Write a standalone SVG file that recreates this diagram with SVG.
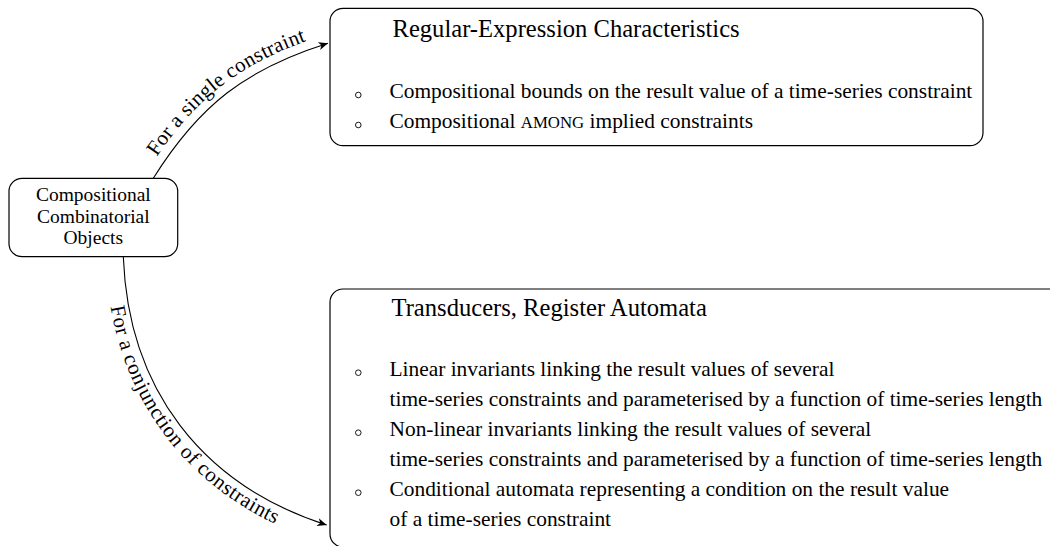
<svg xmlns="http://www.w3.org/2000/svg" width="1050" height="546" viewBox="0 0 1050 546">
<style>
  .box { fill: #fff; stroke: #000; stroke-width: 1.2; }
  .t { font-family: "Liberation Serif", "Times New Roman", serif; fill: #000; }
  .node { font-size: 19.5px; text-anchor: middle; }
  .head { font-size: 24.6px; }
  .body { font-size: 21.4px; }
  .sc { font-size: 16.8px; }
  .lbl { font-size: 21px; text-anchor: middle; }
  .conn { fill: none; stroke: #000; stroke-width: 1.1; }
  .bul { fill: none; stroke: #000; stroke-width: 0.9; }
</style>
<defs>
  <marker id="arr" markerUnits="userSpaceOnUse" markerWidth="14" markerHeight="12" viewBox="-11 -6 12 12" refX="0" refY="0" orient="auto">
    <path d="M0,0 L-9.5,-4 L-6.8,0 L-9.5,4 Z" fill="#000"/>
  </marker>
</defs>

<g id="connectors">
  <path id="c1" class="conn" d="M153.3,178.3 C199.3,105 245.5,69.2 328,43.3" marker-end="url(#arr)"/>
  <path id="c2" class="conn" d="M123.3,256.7 C128.3,388.4 201.2,484.7 326.7,525" marker-end="url(#arr)"/>
  <text class="t lbl"><textPath href="#c1" startOffset="50%"><tspan dy="-9">For a single constraint</tspan></textPath></text>
  <text class="t lbl"><textPath href="#c2" startOffset="50%"><tspan dy="18">For a conjunction of constraints</tspan></textPath></text>
</g>

<g id="node-objects">
  <rect class="box" x="9" y="178.3" width="168.7" height="78.4" rx="13"/>
  <text class="t node" x="93.3" y="201">Compositional</text>
  <text class="t node" x="93.3" y="222.6">Combinatorial</text>
  <text class="t node" x="93.3" y="244.2">Objects</text>
</g>

<g id="node-regex">
  <rect class="box" x="330" y="8.3" width="653" height="137.4" rx="13"/>
  <text class="t head" x="392.5" y="36.7">Regular-Expression Characteristics</text>
  <circle class="bul" cx="358.3" cy="95" r="2.8"/>
  <text class="t body" x="389.5" y="98.3">Compositional bounds on the result value of a time-series constraint</text>
  <circle class="bul" cx="358.3" cy="125" r="2.8"/>
  <text class="t body" x="389.5" y="128.3">Compositional <tspan class="sc">AMONG</tspan> implied constraints</text>
</g>

<g id="node-transducers">
  <rect class="box" x="330" y="289" width="740" height="258" rx="13"/>
  <text class="t head" x="391.5" y="316">Transducers, Register Automata</text>
  <circle class="bul" cx="358.3" cy="372.7" r="2.8"/>
  <text class="t body" x="389.5" y="376">Linear invariants linking the result values of several</text>
  <text class="t body" x="389.5" y="406">time-series constraints and parameterised by a function of time-series length</text>
  <circle class="bul" cx="358.3" cy="432.7" r="2.8"/>
  <text class="t body" x="389.5" y="436">Non-linear invariants linking the result values of several</text>
  <text class="t body" x="389.5" y="466">time-series constraints and parameterised by a function of time-series length</text>
  <circle class="bul" cx="358.3" cy="492.7" r="2.8"/>
  <text class="t body" x="389.5" y="496">Conditional automata representing a condition on the result value</text>
  <text class="t body" x="389.5" y="526">of a time-series constraint</text>
</g>
</svg>
